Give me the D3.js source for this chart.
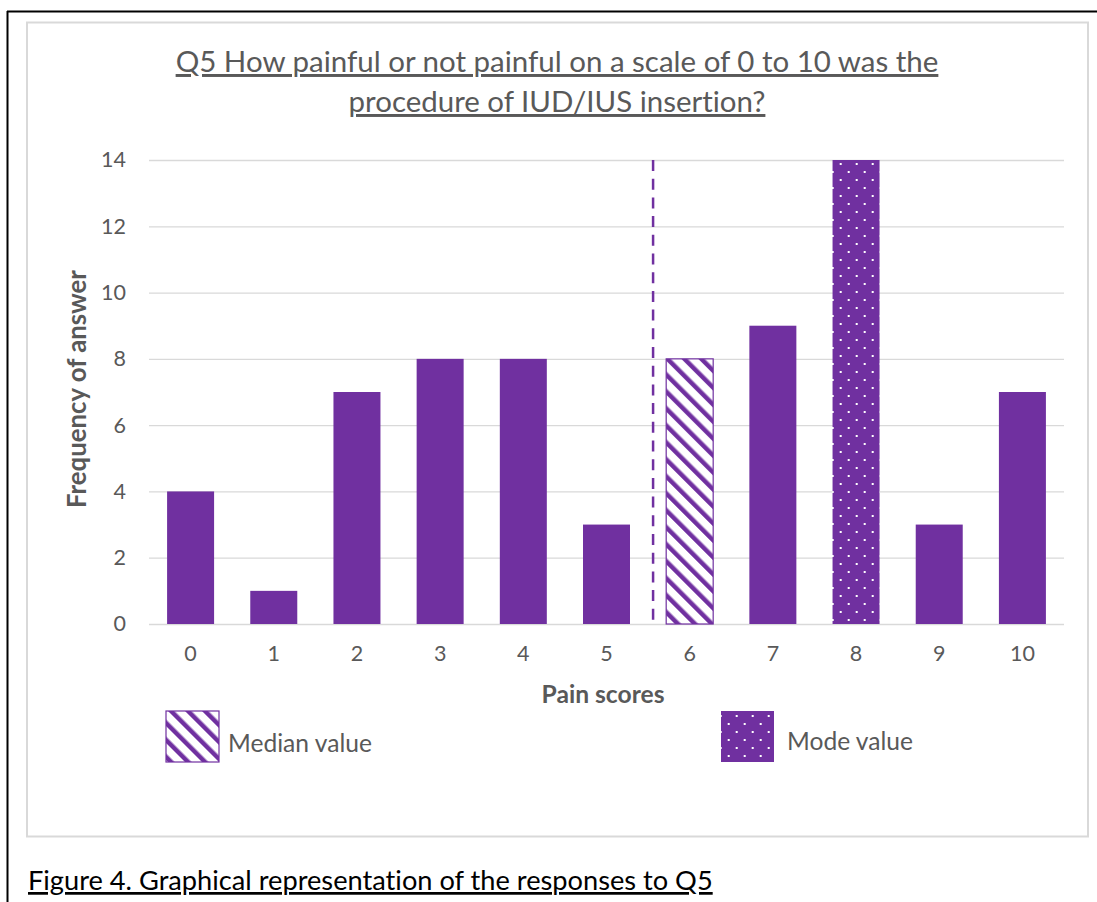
<!DOCTYPE html>
<html>
<head>
<meta charset="utf-8">
<script src="https://cdn.jsdelivr.net/npm/d3@7"></script>
<style>
  html, body { margin: 0; padding: 0; background: #fff; }
  svg { display: block; }
  text { font-family: Lato, "Open Sans", sans-serif; font-variant-ligatures: none; }
</style>
</head>
<body>
<svg id="chart" width="1097" height="902"></svg>
<script>
// Pain score categories and how many respondents chose each one
const categories = ["0", "1", "2", "3", "4", "5", "6", "7", "8", "9", "10"];
const frequencies = [4, 1, 7, 8, 8, 3, 8, 9, 14, 3, 7];
const yTicks = [0, 2, 4, 6, 8, 10, 12, 14];
const medianCategory = "6";
const modeCategory = "8";
// Median marker position along the category axis (category index units)
const medianMarkerIndex = 5.56;

const titleLines = [
  "Q5 How painful or not painful on a scale of 0 to 10 was the",
  "procedure of IUD/IUS insertion?"
];
const xAxisTitle = "Pain scores";
const yAxisTitle = "Frequency of answer";
const legendItems = ["Median value", "Mode value"];
const caption = "Figure 4. Graphical representation of the responses to Q5";

const purple = "#7030a0";
const textGrey = "#595959";
const gridGrey = "#d9d9d9";

const svg = d3.select("#chart");

// Fit a text element's font size so it spans the wanted width
function fitWidth(sel, width) {
  const node = sel.node();
  const fs = parseFloat(sel.attr("font-size"));
  const w = node.getComputedTextLength();
  sel.attr("font-size", fs * width / w);
}

// Page frame and chart frame
svg.append("line").attr("x1", 7).attr("x2", 1097).attr("y1", 11.5).attr("y2", 11.5)
  .attr("stroke", "#000").attr("stroke-width", 2);
svg.append("line").attr("x1", 7.5).attr("x2", 7.5).attr("y1", 11).attr("y2", 902)
  .attr("stroke", "#000").attr("stroke-width", 2);
svg.append("rect").attr("x", 27).attr("y", 22.5).attr("width", 1061).attr("height", 814)
  .attr("fill", "#fff").attr("stroke", gridGrey).attr("stroke-width", 2);

// Fill patterns
const defs = svg.append("defs");
const stripes = defs.append("pattern").attr("id", "stripes")
  .attr("patternUnits", "userSpaceOnUse").attr("width", 12).attr("height", 12)
  .attr("patternTransform", "rotate(-45)");
stripes.append("rect").attr("width", 12).attr("height", 12).attr("fill", "#fff");
stripes.append("rect").attr("x", 0).attr("width", 4.5).attr("height", 12).attr("fill", purple);

const dots = defs.append("pattern").attr("id", "dots")
  .attr("patternUnits", "userSpaceOnUse").attr("width", 16).attr("height", 16);
dots.append("rect").attr("width", 16).attr("height", 16).attr("fill", purple);
dots.append("rect").attr("x", 7.7).attr("y", 3).attr("width", 2).attr("height", 2).attr("fill", "#fff");
dots.append("rect").attr("x", -0.3).attr("y", 11).attr("width", 2).attr("height", 2).attr("fill", "#fff");
dots.append("rect").attr("x", 15.7).attr("y", 11).attr("width", 2).attr("height", 2).attr("fill", "#fff");

// Scales
const plot = { left: 149, right: 1064, top: 160, bottom: 624 };
const x = d3.scaleBand().domain(categories).range([plot.left, plot.right])
  .paddingInner(0.435).paddingOuter(0.2175);
const xIndex = d3.scaleLinear().domain([-0.5, categories.length - 0.5]).range([plot.left, plot.right]);
const y = d3.scaleLinear().domain([0, 14]).range([plot.bottom, plot.top]);

// Title
const title = svg.append("g");
titleLines.forEach((line, i) => {
  const t = title.append("text")
    .attr("x", 557).attr("y", 72 + i * 40)
    .attr("text-anchor", "middle").attr("fill", textGrey)
    .attr("font-size", 26).attr("text-decoration", "underline")
    .text(line);
  fitWidth(t, i === 0 ? 763 : 417);
});

// Horizontal gridlines
svg.append("g").selectAll("line").data(yTicks).join("line")
  .attr("x1", plot.left).attr("x2", plot.right)
  .attr("y1", d => y(d) + 0.5).attr("y2", d => y(d) + 0.5)
  .attr("stroke", gridGrey).attr("stroke-width", 1.3);

// Y axis labels
const yAxis = svg.append("g").attr("transform", `translate(${plot.left},0)`)
  .call(d3.axisLeft(y).tickValues(yTicks).tickSize(0).tickPadding(23));
yAxis.select(".domain").remove();
yAxis.selectAll("text").attr("font-size", 21.5).attr("fill", textGrey)
  .attr("font-family", "Lato, sans-serif");

// X axis labels
const xAxis = svg.append("g").attr("transform", `translate(0,${plot.bottom})`)
  .call(d3.axisBottom(x).tickSize(0).tickPadding(22));
xAxis.select(".domain").remove();
xAxis.selectAll("text").attr("font-size", 21.5).attr("fill", textGrey)
  .attr("font-family", "Lato, sans-serif");

// Bars
svg.append("g").selectAll("rect").data(categories).join("rect")
  .attr("x", d => x(d))
  .attr("y", (d, i) => y(frequencies[i]))
  .attr("width", x.bandwidth())
  .attr("height", (d, i) => y(0) - y(frequencies[i]))
  .attr("fill", d => d === medianCategory ? "url(#stripes)" : d === modeCategory ? "url(#dots)" : purple)
  .attr("stroke", d => d === medianCategory ? purple : "none")
  .attr("stroke-width", 1.2);

// Median marker line
svg.append("line")
  .attr("x1", xIndex(medianMarkerIndex)).attr("x2", xIndex(medianMarkerIndex))
  .attr("y1", y(14)).attr("y2", y(0))
  .attr("stroke", purple).attr("stroke-width", 2.5)
  .attr("stroke-dasharray", "11,7.7");

// Axis titles
const xt = svg.append("text").attr("x", 603).attr("y", 703)
  .attr("text-anchor", "middle").attr("font-weight", "bold").attr("fill", textGrey)
  .attr("font-size", 20).text(xAxisTitle);
fitWidth(xt, 123);
const yt = svg.append("text")
  .attr("transform", "translate(86,389) rotate(-90)")
  .attr("text-anchor", "middle").attr("font-weight", "bold").attr("fill", textGrey)
  .attr("font-size", 20).text(yAxisTitle);
fitWidth(yt, 238);

// Legend
const legend = [
  { label: legendItems[0], fill: "url(#stripes)", stroke: purple, x: 166, tx: 228, ty: 752, w: 144 },
  { label: legendItems[1], fill: "url(#dots)", stroke: "none", x: 721, tx: 787, ty: 750, w: 126 }
];
legend.forEach(item => {
  svg.append("rect").attr("x", item.x).attr("y", 711).attr("width", 53).attr("height", 51)
    .attr("fill", item.fill).attr("stroke", item.stroke).attr("stroke-width", 1.2);
  const t = svg.append("text").attr("x", item.tx).attr("y", item.ty)
    .attr("fill", textGrey).attr("font-size", 24).text(item.label);
  fitWidth(t, item.w);
});

// Figure caption
const cap = svg.append("text").attr("x", 28).attr("y", 890)
  .attr("fill", "#000").attr("font-size", 24).attr("text-decoration", "underline")
  .text(caption);
fitWidth(cap, 685);
</script>
</body>
</html>
